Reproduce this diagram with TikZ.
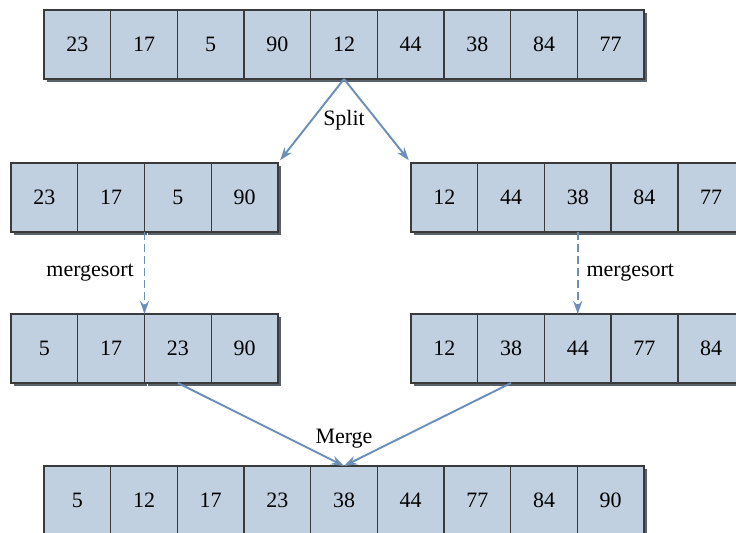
\documentclass[tikz,border=0pt]{standalone}
\usepackage{fontspec}
\setmainfont{Liberation Serif}
\usepackage{xcolor}
\usepackage{tikz}
\usetikzlibrary{arrows.meta,positioning,shadows}

\definecolor{cellfill}{HTML}{C1D0E0}
\definecolor{cellline}{HTML}{3A3A3A}
\definecolor{shadowgray}{HTML}{59616B}
\definecolor{flowblue}{HTML}{6B8FB8}

\begin{document}
\begin{tikzpicture}[x=0.02cm, y=-0.02cm, font=\fontsize{12.5}{15}\selectfont,
  cell/.style={draw=cellline, line width=0.8pt, fill=cellfill, outer sep=0pt, inner sep=0pt,
    minimum width=1.334cm, minimum height=1.38cm,
    drop shadow={shadow xshift=0.06cm, shadow yshift=-0.06cm, fill=shadowgray, opacity=1}},
  lbl/.style={inner sep=0pt},
  flow/.style={->, draw=flowblue, line width=1.1pt},
  sortflow/.style={flow, dash pattern=on 0.16cm off 0.08cm},
  >={Stealth[length=0.26cm, width=0.18cm]}]
\clip (0,0) rectangle (736,533);
% original array
\foreach \v [count=\i] in {23,17,5,90,12,44,38,84,77}
  \node[cell] (top-\i) at ({44+66.67*(\i-0.5)},44.5) {\v};
% the two halves
\foreach \v [count=\i] in {23,17,5,90}
  \node[cell] (splitL-\i) at ({11+66.75*(\i-0.5)},197.5) {\v};
\foreach \v [count=\i] in {12,44,38,84,77}
  \node[cell] (splitR-\i) at ({411+66.7*(\i-0.5)},197.5) {\v};
% sorted halves
\foreach \v [count=\i] in {5,17,23,90}
  \node[cell] (sortL-\i) at ({11+66.75*(\i-0.5)},348.5) {\v};
\foreach \v [count=\i] in {12,38,44,77,84}
  \node[cell] (sortR-\i) at ({411+66.7*(\i-0.5)},348.5) {\v};
% merged result
\foreach \v [count=\i] in {5,12,17,23,38,44,77,84,90}
  \node[cell] (merged-\i) at ({44+66.67*(\i-0.5)},500.5) {\v};

\node[lbl] (split) at (344,120) {Split};
\node[lbl] (merge) at (344,439) {Merge};

\draw[flow, shorten >=2pt] (top-5.south) -- (splitL-4.north east);
\draw[flow, shorten >=2pt] (top-5.south) -- (splitR-1.north west);
\draw[sortflow] (splitL-2.south east) -- node[lbl, left=5.5pt] (sortlblL) {mergesort} (sortL-2.north east);
\draw[sortflow] (splitR-3.south) -- node[lbl, right=4.5pt] (sortlblR) {mergesort} (sortR-3.north);
\draw[flow] (sortL-3.south) -- (merged-5.north);
\draw[flow] (sortR-2.south) -- (merged-5.north);
\end{tikzpicture}
\end{document}
